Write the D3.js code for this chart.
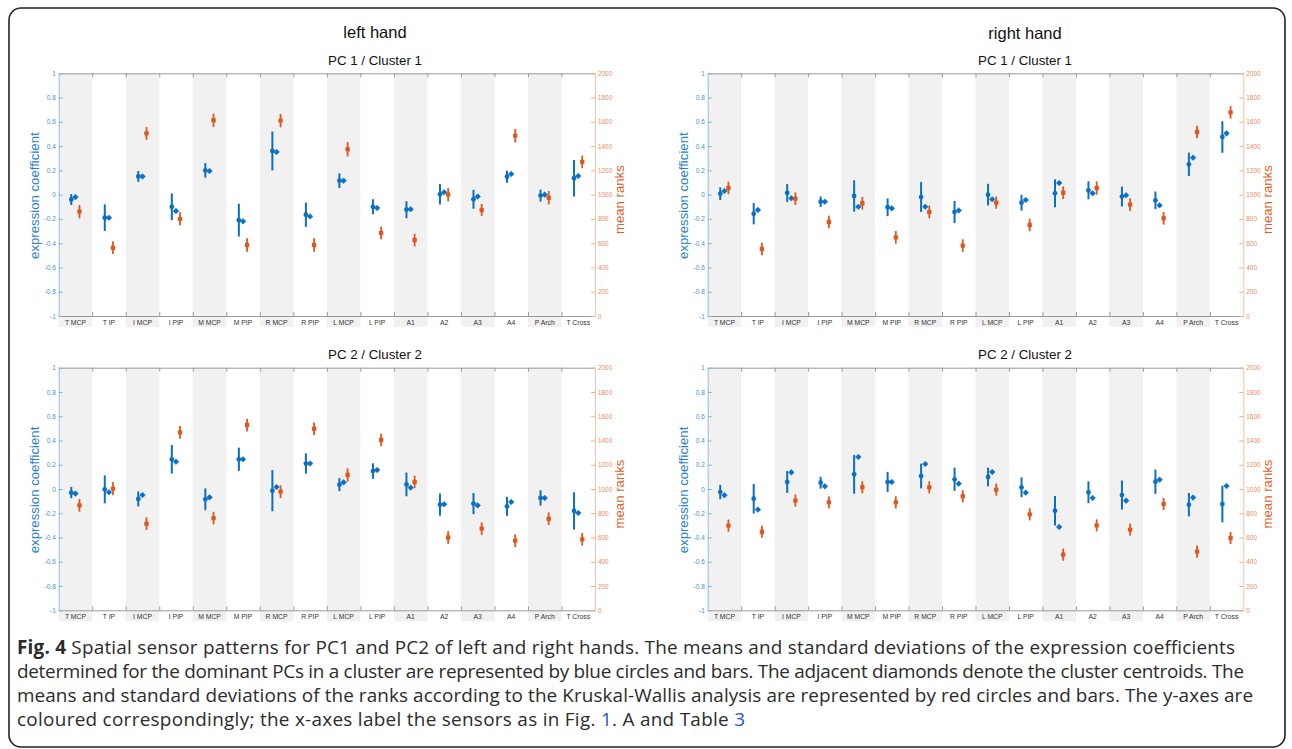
<!DOCTYPE html>
<html>
<head>
<meta charset="utf-8">
<script src="https://cdn.jsdelivr.net/npm/d3@7"></script>
<style>
  body { margin: 0; background: #fff; }
  svg { display: block; }
</style>
</head>
<body>
<div id="chart"></div>
<script>
// sensors on the x axis
var sensors = ["T MCP", "T IP", "I MCP", "I PIP", "M MCP", "M PIP", "R MCP", "R PIP",
               "L MCP", "L PIP", "A1", "A2", "A3", "A4", "P Arch", "T Cross"];

// left hand, PC 1 / Cluster 1
var leftPC1Mean     = [-0.04, -0.19, 0.15, -0.10, 0.20, -0.21, 0.36, -0.165, 0.115, -0.10, -0.124, 0.003, -0.038, 0.148, -0.008, 0.135];
var leftPC1Sd       = [0.045, 0.11, 0.045, 0.11, 0.06, 0.135, 0.16, 0.10, 0.06, 0.062, 0.07, 0.084, 0.078, 0.05, 0.05, 0.15];
var leftPC1Centroid = [-0.02, -0.19, 0.15, -0.135, 0.195, -0.22, 0.352, -0.18, 0.115, -0.11, -0.12, 0.02, -0.016, 0.17, 0.0, 0.154];
var leftPC1Rank     = [860, 563, 1505, 800, 1613, 585, 1610, 585, 1374, 684, 626, 1000, 874, 1486, 975, 1270];
var leftPC1RankSd   = [55, 52, 52, 55, 55, 55, 55, 55, 60, 52, 52, 55, 50, 55, 55, 52];

// right hand, PC 1 / Cluster 1
var rightPC1Mean     = [0.008, -0.157, 0.014, -0.058, -0.011, -0.104, -0.02, -0.143, 0.0, -0.066, 0.011, 0.036, -0.016, -0.047, 0.25, 0.475];
var rightPC1Sd       = [0.052, 0.088, 0.074, 0.043, 0.129, 0.073, 0.123, 0.091, 0.089, 0.065, 0.115, 0.074, 0.082, 0.073, 0.096, 0.13];
var rightPC1Centroid = [0.03, -0.126, -0.03, -0.058, -0.10, -0.113, -0.10, -0.13, -0.038, -0.044, 0.096, 0.011, -0.005, -0.088, 0.305, 0.505];
var rightPC1Rank     = [1055, 552, 967, 775, 929, 648, 857, 580, 934, 750, 1016, 1055, 918, 805, 1516, 1678];
var rightPC1RankSd   = [52, 52, 52, 52, 52, 52, 52, 52, 50, 52, 52, 55, 52, 52, 52, 52];

// left hand, PC 2 / Cluster 2
var leftPC2Mean     = [-0.03, -0.003, -0.082, 0.245, -0.085, 0.245, -0.014, 0.21, 0.036, 0.148, 0.038, -0.129, -0.12, -0.143, -0.074, -0.181];
var leftPC2Sd       = [0.046, 0.115, 0.062, 0.118, 0.09, 0.096, 0.17, 0.084, 0.054, 0.064, 0.098, 0.091, 0.087, 0.078, 0.063, 0.154];
var leftPC2Centroid = [-0.038, -0.027, -0.05, 0.225, -0.069, 0.245, 0.016, 0.21, 0.055, 0.157, 0.011, -0.126, -0.135, -0.107, -0.074, -0.198];
var leftPC2Rank     = [865, 1003, 714, 1467, 760, 1527, 978, 1497, 1115, 1404, 1058, 600, 673, 574, 755, 585];
var leftPC2RankSd   = [52, 55, 52, 52, 52, 52, 52, 52, 55, 52, 52, 52, 52, 52, 52, 52];

// right hand, PC 2 / Cluster 2
var rightPC2Mean     = [-0.025, -0.08, 0.058, 0.052, 0.121, 0.058, 0.107, 0.08, 0.099, 0.014, -0.179, -0.027, -0.05, 0.06, -0.129, -0.124];
var rightPC2Sd       = [0.059, 0.122, 0.09, 0.049, 0.16, 0.083, 0.102, 0.096, 0.077, 0.082, 0.122, 0.09, 0.12, 0.10, 0.096, 0.151];
var rightPC2Centroid = [-0.052, -0.17, 0.137, 0.022, 0.264, 0.058, 0.206, 0.044, 0.14, -0.03, -0.313, -0.074, -0.096, 0.077, -0.071, 0.025];
var rightPC2Rank     = [698, 648, 904, 890, 1014, 890, 1014, 940, 995, 791, 459, 700, 665, 876, 484, 596];
var rightPC2RankSd   = [50, 50, 50, 50, 50, 50, 50, 50, 50, 50, 50, 50, 50, 50, 50, 50];

var coefTicks = [-1, -0.8, -0.6, -0.4, -0.2, 0, 0.2, 0.4, 0.6, 0.8, 1];
var rankTicks = [0, 200, 400, 600, 800, 1000, 1200, 1400, 1600, 1800, 2000];

var blue = "#0b6fc4", orange = "#e0561c";

var width = 1292, height = 749;

var svg = d3.select("#chart")
  .append("svg")
    .attr("width", width)
    .attr("height", height);

// rounded frame round the figure
svg.append("rect")
  .attr("x", 9).attr("y", 8)
  .attr("width", 1276).attr("height", 739)
  .attr("rx", 12)
  .attr("fill", "none")
  .attr("stroke", "#222")
  .attr("stroke-width", 1.6);

// hand titles
svg.append("text").attr("x", 375).attr("y", 38).attr("text-anchor", "middle")
  .attr("font-family", "Liberation Sans, Arial, sans-serif").attr("font-size", "16.5px")
  .attr("fill", "#111").text("left hand");
svg.append("text").attr("x", 1025).attr("y", 39).attr("text-anchor", "middle")
  .attr("font-family", "Liberation Sans, Arial, sans-serif").attr("font-size", "16.5px")
  .attr("fill", "#111").text("right hand");

var panels = [
  {title: "PC 1 / Cluster 1", x0: 58.7, x1: 595, y0: 73.3, y1: 316, tx: 375,
   mean: leftPC1Mean, sd: leftPC1Sd, cen: leftPC1Centroid, rank: leftPC1Rank, rsd: leftPC1RankSd},
  {title: "PC 1 / Cluster 1", x0: 707.7, x1: 1243.3, y0: 73.3, y1: 316, tx: 1025,
   mean: rightPC1Mean, sd: rightPC1Sd, cen: rightPC1Centroid, rank: rightPC1Rank, rsd: rightPC1RankSd},
  {title: "PC 2 / Cluster 2", x0: 58.7, x1: 595, y0: 367.7, y1: 610.3, tx: 375,
   mean: leftPC2Mean, sd: leftPC2Sd, cen: leftPC2Centroid, rank: leftPC2Rank, rsd: leftPC2RankSd},
  {title: "PC 2 / Cluster 2", x0: 707.7, x1: 1243.3, y0: 367.7, y1: 610.3, tx: 1025,
   mean: rightPC2Mean, sd: rightPC2Sd, cen: rightPC2Centroid, rank: rightPC2Rank, rsd: rightPC2RankSd}
];

panels.forEach(drawPanel);

function drawPanel(p) {
  var g = svg.append("g");
  var x = d3.scaleBand().domain(sensors).range([p.x0, p.x1]);
  var xb = d3.scaleLinear().domain([0, sensors.length]).range([p.x0, p.x1]);
  var y = d3.scaleLinear().domain([-1, 1]).range([p.y1, p.y0]);
  var yr = d3.scaleLinear().domain([0, 2000]).range([p.y1, p.y0]);
  var bw = x.bandwidth();

  // shaded bands behind every other sensor
  g.selectAll("rect.band")
    .data(sensors.filter((s, i) => i % 2 == 0))
    .enter()
    .append("rect")
      .attr("x", d => x(d))
      .attr("y", p.y0)
      .attr("width", bw)
      .attr("height", p.y1 - p.y0 + 11)
      .attr("fill", "#f1f1f1");

  // top and bottom axes with ticks at band boundaries
  var top = g.append("g").attr("transform", "translate(0," + p.y0 + ")")
    .call(d3.axisTop(xb).tickValues(d3.range(1, sensors.length)).tickSizeInner(-4).tickSizeOuter(0).tickFormat(""));
  var bot = g.append("g").attr("transform", "translate(0," + p.y1 + ")")
    .call(d3.axisBottom(xb).tickValues(d3.range(1, sensors.length)).tickSizeInner(-4).tickSizeOuter(0).tickFormat(""));
  [top, bot].forEach(function(a) {
    a.select(".domain").attr("stroke", "#9a9a9a").attr("stroke-width", 1);
    a.selectAll(".tick line").attr("stroke", "#9a9a9a");
  });

  // sensor labels
  g.selectAll("text.xl")
    .data(sensors)
    .enter()
    .append("text")
      .attr("x", d => x(d) + bw / 2)
      .attr("y", p.y1 + 9)
      .attr("text-anchor", "middle")
      .attr("font-family", "Liberation Sans, Arial, sans-serif")
      .attr("font-size", "6.8px")
      .attr("fill", "#333")
      .text(d => d);

  // left axis: expression coefficient
  var la = g.append("g").attr("transform", "translate(" + p.x0 + ",0)")
    .call(d3.axisLeft(y).tickValues(coefTicks).tickSizeInner(-4).tickSizeOuter(0).tickPadding(3)
      .tickFormat(d => String(+d.toFixed(1))));
  la.select(".domain").attr("stroke", "#95c0e8");
  la.selectAll(".tick line").attr("stroke", "#7fb2e2");
  la.selectAll(".tick text").attr("fill", "#3b8fd8").attr("font-size", "6.4px")
    .attr("font-family", "Liberation Sans, Arial, sans-serif");

  // right axis: mean ranks
  var ra = g.append("g").attr("transform", "translate(" + p.x1 + ",0)")
    .call(d3.axisRight(yr).tickValues(rankTicks).tickSizeInner(-4).tickSizeOuter(0).tickPadding(3)
      .tickFormat(d3.format("d")));
  ra.select(".domain").attr("stroke", "#f6c2a6");
  ra.selectAll(".tick line").attr("stroke", "#f2ae8c");
  ra.selectAll(".tick text").attr("fill", "#ea8a5c").attr("font-size", "6.4px")
    .attr("font-family", "Liberation Sans, Arial, sans-serif");

  var ym = (p.y0 + p.y1) / 2;
  g.append("text")
    .attr("transform", "translate(" + (p.x0 - 20) + "," + (ym + 1) + ") rotate(-90)")
    .attr("text-anchor", "middle")
    .attr("font-family", "Liberation Sans, Arial, sans-serif")
    .attr("font-size", "13.2px")
    .attr("fill", "#2a80d2")
    .text("expression coefficient");
  g.append("text")
    .attr("transform", "translate(" + (p.x1 + 29) + "," + (ym + 5) + ") rotate(-90)")
    .attr("text-anchor", "middle")
    .attr("font-family", "Liberation Sans, Arial, sans-serif")
    .attr("font-size", "13.2px")
    .attr("fill", "#e2601f")
    .text("mean ranks");

  // panel title
  g.append("text")
    .attr("x", p.tx).attr("y", p.y0 - 8.5)
    .attr("text-anchor", "middle")
    .attr("font-family", "Liberation Sans, Arial, sans-serif")
    .attr("font-size", "13.3px")
    .attr("fill", "#111")
    .text(p.title);

  var idx = d3.range(sensors.length);

  // expression coefficient: error bars and means
  g.selectAll("line.cbar")
    .data(idx)
    .enter()
    .append("line")
      .attr("x1", i => x(sensors[i]) + bw / 2 - 4.2)
      .attr("x2", i => x(sensors[i]) + bw / 2 - 4.2)
      .attr("y1", i => y(p.mean[i] - p.sd[i]))
      .attr("y2", i => y(p.mean[i] + p.sd[i]))
      .attr("stroke", blue)
      .attr("stroke-width", 2);
  g.selectAll("circle.cmean")
    .data(idx)
    .enter()
    .append("circle")
      .attr("cx", i => x(sensors[i]) + bw / 2 - 4.2)
      .attr("cy", i => y(p.mean[i]))
      .attr("r", 2.4)
      .attr("fill", blue);

  // cluster centroids
  g.selectAll("path.cen")
    .data(idx)
    .enter()
    .append("path")
      .attr("transform", i => "translate(" + (x(sensors[i]) + bw / 2) + "," + y(p.cen[i]) + ")")
      .attr("d", "M0,-2.8L2.8,0L0,2.8L-2.8,0Z")
      .attr("fill", blue)
      .attr("stroke", blue)
      .attr("stroke-width", 0.6);

  // ranks: error bars and means
  g.selectAll("line.rbar")
    .data(idx)
    .enter()
    .append("line")
      .attr("x1", i => x(sensors[i]) + bw / 2 + 4)
      .attr("x2", i => x(sensors[i]) + bw / 2 + 4)
      .attr("y1", i => yr(p.rank[i] - p.rsd[i]))
      .attr("y2", i => yr(p.rank[i] + p.rsd[i]))
      .attr("stroke", orange)
      .attr("stroke-width", 1.8);
  g.selectAll("rect.rmean")
    .data(idx)
    .enter()
    .append("rect")
      .attr("x", i => x(sensors[i]) + bw / 2 + 4 - 2.2)
      .attr("y", i => yr(p.rank[i]) - 2.2)
      .attr("width", 4.4)
      .attr("height", 4.4)
      .attr("rx", 1)
      .attr("fill", orange);
}

// caption, one text element per line so each can be fitted to the reference width
function captionLine(yPos, len) {
  return svg.append("text")
    .attr("x", 17).attr("y", yPos)
    .attr("textLength", len)
    .attr("lengthAdjust", "spacing")
    .attr("font-family", "Open Sans, Noto Sans, sans-serif")
    .attr("font-size", "18.9px")
    .attr("fill", "#2b2b2b");
}
var c1 = captionLine(654, 1218);
c1.append("tspan").attr("font-weight", "bold").text("Fig. 4");
c1.append("tspan").text(" Spatial sensor patterns for PC1 and PC2 of left and right hands. The means and standard deviations of the expression coefficients");
captionLine(678, 1227)
  .text("determined for the dominant PCs in a cluster are represented by blue circles and bars. The adjacent diamonds denote the cluster centroids. The");
captionLine(702, 1236)
  .text("means and standard deviations of the ranks according to the Kruskal-Wallis analysis are represented by red circles and bars. The y-axes are");
var c4 = captionLine(726, 728);
c4.append("tspan").text("coloured correspondingly; the x-axes label the sensors as in Fig. ");
c4.append("tspan").attr("fill", "#2356c9").text("1");
c4.append("tspan").text(". A and Table ");
c4.append("tspan").attr("fill", "#2356c9").text("3");
</script>
</body>
</html>
